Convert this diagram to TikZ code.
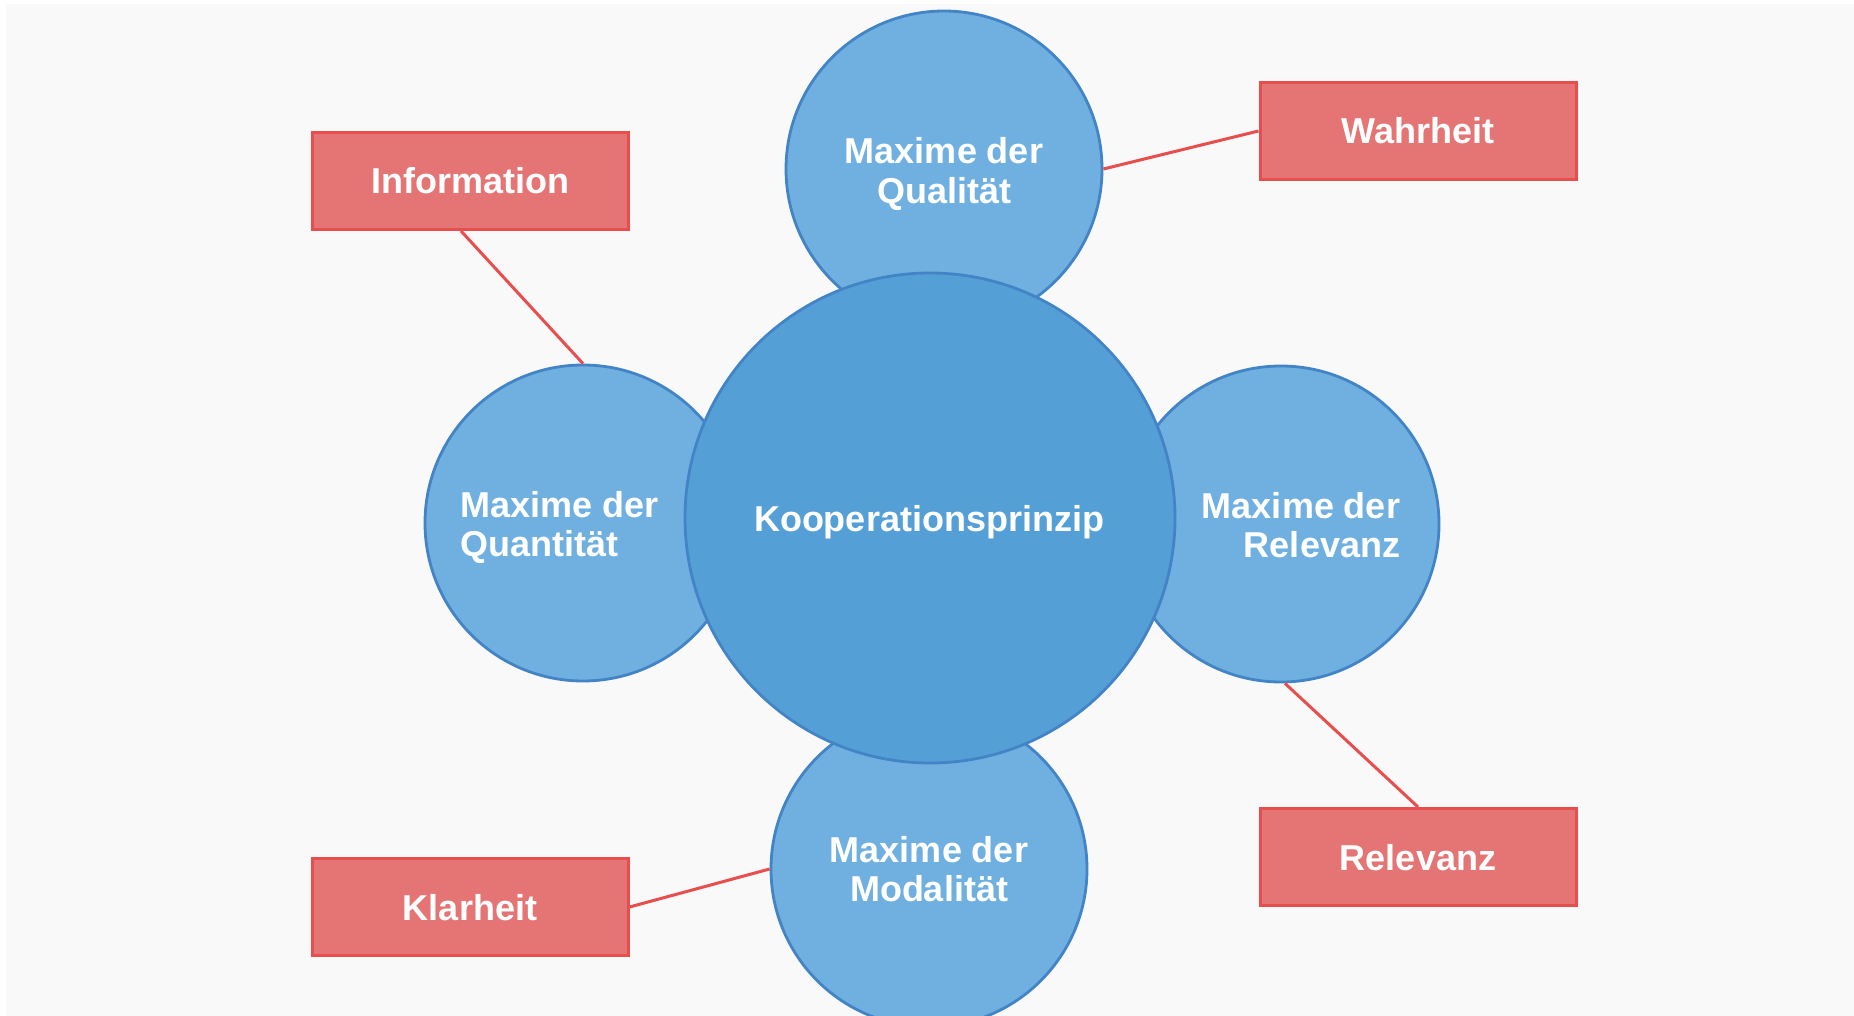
\documentclass[tikz,border=0pt]{standalone}
\usepackage{fontspec}
\setmainfont{Liberation Sans}
\definecolor{pagebg}{HTML}{F9F9F9}
\definecolor{corefill}{HTML}{559FD7}
\definecolor{satfill}{HTML}{6FB0E0}
\definecolor{circline}{HTML}{4384C6}
\definecolor{boxfill}{HTML}{E57474}
\definecolor{boxline}{HTML}{E84E4E}
\begin{document}
\begin{tikzpicture}[x=1pt,y=-1pt,
  lbl/.style={font=\fontsize{36}{39}\selectfont\bfseries, text=white, inner sep=0pt},
  core/.style={circle, draw=circline, fill=corefill, line width=2.8pt, minimum size=490pt, inner sep=0pt},
  sat/.style={circle, draw=circline, fill=satfill, line width=2.8pt, minimum size=316pt, inner sep=0pt},
  tag/.style={rectangle, draw=boxline, fill=boxfill, line width=3pt, minimum width=316pt, minimum height=97pt, inner sep=0pt,
              font=\fontsize{36}{39}\selectfont\bfseries, text=white, text depth=0pt, text height=26pt},
  link/.style={draw=boxline, line width=3pt}
]
\path[use as bounding box, clip] (0,0) rectangle (1854,1016);
\fill[white] (0,0) rectangle (1854,1016);
\fill[pagebg] (6,4) rectangle (1854,1016);

% outer maxims
\node[sat] (qual) at (944,169) {};
\node[sat] (quan) at (583,523) {};
\node[sat] (rele) at (1281,524) {};
\node[sat] (moda) at (929,869) {};

% central principle
\node[core] (koop) at (930,518) {};
\node[lbl] (koopt) at (929,522) {Kooperationsprinzip};

% maxim labels
\node[lbl, align=center, font=\fontsize{36}{40}\selectfont\bfseries] (qualt) at (944,174) {Maxime der\\Qualität};
\node[lbl, align=left] (quant) at (560,527) {Maxime der\\Quantität};
\node[lbl, align=right] (relet) at (1301,525) {Maxime der\\Relevanz};
\node[lbl, align=center] (modat) at (929,869) {Maxime der\\Modalität};

% submaxim boxes
\node[tag] (info) at (470,181) {Information};
\node[tag] (wahr) at (1418,131) {Wahrheit};
\node[tag] (relb) at (1418,857) {Relevanz};
\node[tag] (klar) at (470,907) {Klarheit};

% connectors
\draw[link] ([xshift=-9pt]info.south) -- (quan.north);
\draw[link] (qual.east) -- (wahr.west);
\draw[link] ([xshift=4pt]rele.south) -- (relb.north);
\draw[link] (klar.east) -- (moda.west);
\end{tikzpicture}
\end{document}
